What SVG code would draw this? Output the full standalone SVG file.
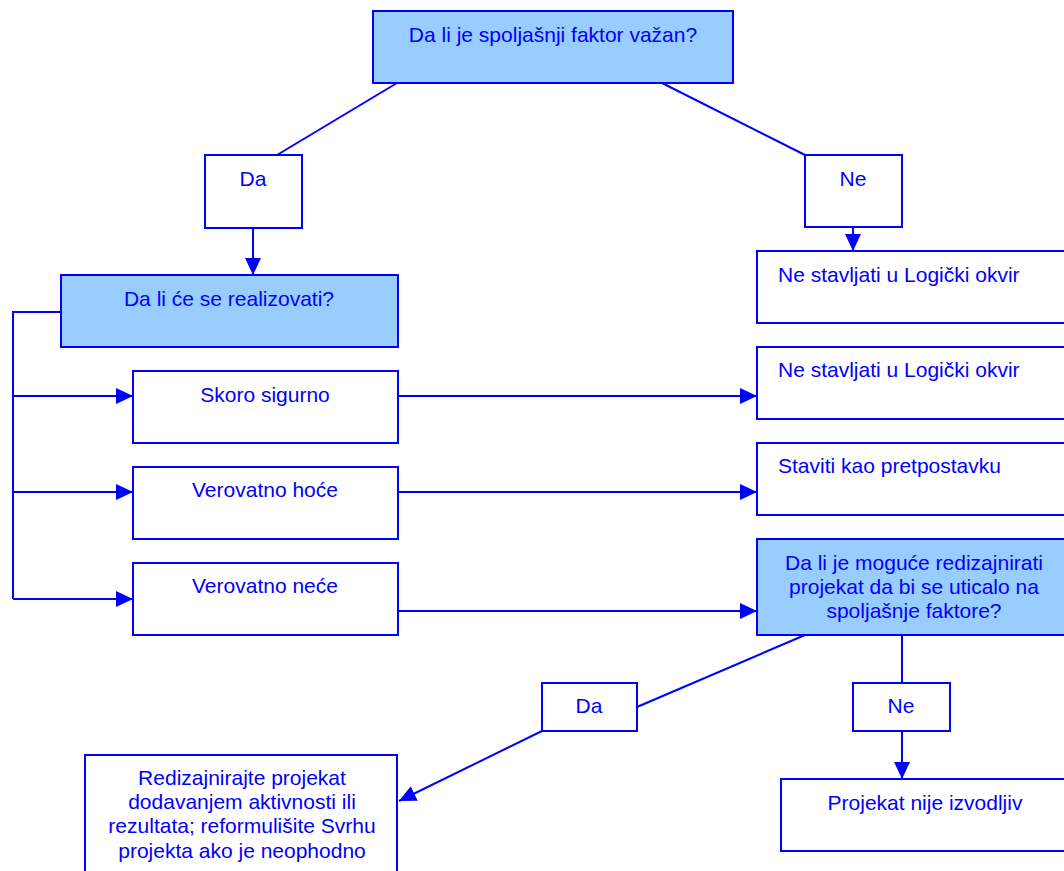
<svg xmlns="http://www.w3.org/2000/svg" width="1064" height="871" viewBox="0 0 1064 871">
  <style>
    .box { fill: #ffffff; stroke: #0000ff; stroke-width: 2; }
    .q { fill: #99ccff; stroke: #0000ff; stroke-width: 2; }
    .t { font-family: "Liberation Sans", Arial, sans-serif; font-size: 21px; fill: #0000ff; }
    .c { text-anchor: middle; }
    .ln { fill: none; stroke: #0000ff; stroke-width: 2; }
    .arr { fill: none; stroke: #0000ff; stroke-width: 2; marker-end: url(#head); }
  </style>
  <defs>
    <marker id="head" markerUnits="userSpaceOnUse" markerWidth="18" markerHeight="16" refX="17" refY="8" orient="auto">
      <path d="M0,0 L17,8 L0,16 Z" fill="#0000ff"/>
    </marker>
  </defs>
  <rect width="1064" height="871" fill="#ffffff"/>

  <g id="connectors">
    <path class="ln" d="M397,83 L277,155"/>
    <path class="ln" d="M662,83 L805,155"/>
    <path class="arr" d="M253,228 L253,275"/>
    <path class="arr" d="M853,227 L853,251"/>
    <path class="ln" d="M61,312 L13,312 L13,599"/>
    <path class="arr" d="M13,396 L133,396"/>
    <path class="arr" d="M13,492 L133,492"/>
    <path class="arr" d="M13,599 L133,599"/>
    <path class="arr" d="M398,396 L757,396"/>
    <path class="arr" d="M398,492 L757,492"/>
    <path class="arr" d="M398,611 L757,611"/>
    <path class="ln" d="M805,635 L637,707"/>
    <path class="arr" d="M542,731 L399,801"/>
    <path class="ln" d="M902,635 L902,683"/>
    <path class="arr" d="M902,731 L902,779"/>
  </g>

  <g id="q-external">
    <rect class="q" x="373" y="11" width="360" height="72"/>
    <text class="t c" x="553" y="42">Da li je spoljašnji faktor važan?</text>
  </g>
  <g id="yes-1">
    <rect class="box" x="205" y="155" width="97" height="73"/>
    <text class="t c" x="253" y="186">Da</text>
  </g>
  <g id="no-1">
    <rect class="box" x="805" y="155" width="97" height="72"/>
    <text class="t c" x="853" y="186">Ne</text>
  </g>
  <g id="out-not-1">
    <rect class="box" x="757" y="251" width="313" height="72"/>
    <text class="t" x="778" y="282">Ne stavljati u Logički okvir</text>
  </g>
  <g id="q-realize">
    <rect class="q" x="61" y="275" width="337" height="72"/>
    <text class="t c" x="229" y="306">Da li će se realizovati?</text>
  </g>
  <g id="almost-sure">
    <rect class="box" x="133" y="371" width="265" height="72"/>
    <text class="t c" x="265" y="402">Skoro sigurno</text>
  </g>
  <g id="likely">
    <rect class="box" x="133" y="467" width="265" height="72"/>
    <text class="t c" x="265" y="497">Verovatno hoće</text>
  </g>
  <g id="unlikely">
    <rect class="box" x="133" y="563" width="265" height="72"/>
    <text class="t c" x="265" y="593">Verovatno neće</text>
  </g>
  <g id="out-not-2">
    <rect class="box" x="757" y="347" width="313" height="72"/>
    <text class="t" x="778" y="377">Ne stavljati u Logički okvir</text>
  </g>
  <g id="out-assume">
    <rect class="box" x="757" y="443" width="313" height="72"/>
    <text class="t" x="778" y="473">Staviti kao pretpostavku</text>
  </g>
  <g id="q-redesign">
    <rect class="q" x="757" y="539" width="313" height="96"/>
    <text class="t c" x="914" y="570">Da li je moguće redizajnirati</text>
    <text class="t c" x="914" y="594">projekat da bi se uticalo na</text>
    <text class="t c" x="914" y="618">spoljašnje faktore?</text>
  </g>
  <g id="yes-2">
    <rect class="box" x="542" y="683" width="95" height="48"/>
    <text class="t c" x="589" y="713">Da</text>
  </g>
  <g id="no-2">
    <rect class="box" x="853" y="683" width="97" height="48"/>
    <text class="t c" x="901" y="713">Ne</text>
  </g>
  <g id="redesign">
    <rect class="box" x="85" y="755" width="312" height="130"/>
    <text class="t c" x="242" y="785">Redizajnirajte projekat</text>
    <text class="t c" x="242" y="809">dodavanjem aktivnosti ili</text>
    <text class="t c" x="242" y="833">rezultata; reformulišite Svrhu</text>
    <text class="t c" x="242" y="858">projekta ako je neophodno</text>
  </g>
  <g id="not-feasible">
    <rect class="box" x="781" y="779" width="289" height="72"/>
    <text class="t c" x="925" y="810">Projekat nije izvodljiv</text>
  </g>
</svg>
